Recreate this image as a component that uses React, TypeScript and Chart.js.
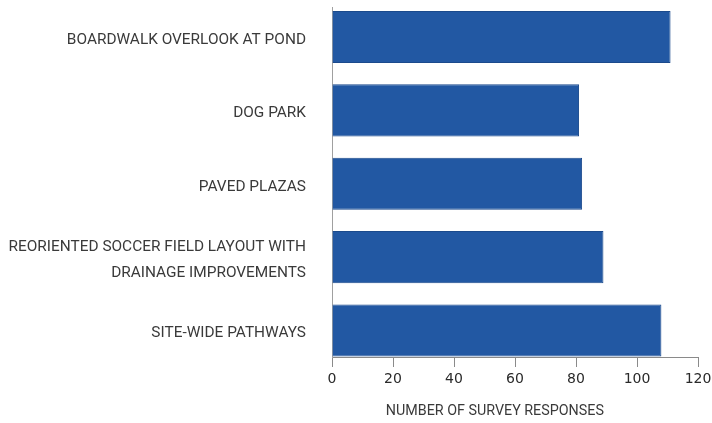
import React, { useEffect, useRef } from "react";
import { Chart, registerables } from "chart.js";

Chart.register(...registerables);

const categories: (string | string[])[] = [
  "BOARDWALK OVERLOOK AT POND",
  "DOG PARK",
  "PAVED PLAZAS",
  ["REORIENTED SOCCER FIELD LAYOUT WITH", "DRAINAGE IMPROVEMENTS"],
  "SITE-WIDE PATHWAYS",
];
const responses: number[] = [111, 81, 82, 89, 108];
const xTicks: number[] = [0, 20, 40, 60, 80, 100, 120];
const axisTitle = "NUMBER OF SURVEY RESPONSES";

const LABEL_FONT = "Roboto, 'Liberation Sans', Arial, sans-serif";

const titlePlugin = {
  id: "offsetTitle",
  afterDraw(chart: any) {
    const { ctx, chartArea } = chart;
    ctx.save();
    ctx.font = `14.3px ${LABEL_FONT}`;
    ctx.fillStyle = "#3a3a3a";
    ctx.textAlign = "center";
    ctx.textBaseline = "middle";
    ctx.fillText(axisTitle, chartArea.left + chartArea.width * 0.445, 411);
    ctx.restore();
  },
};

export default function App() {
  const ref = useRef<HTMLCanvasElement | null>(null);
  useEffect(() => {
    if (!ref.current) return;
    const chart = new Chart(ref.current, {
      type: "bar",
      data: {
        labels: categories as any,
        datasets: [
          {
            data: responses.map((v, i) => ({ x: v, y: i })) as any,
            backgroundColor: "#2258a3",
            borderColor: "#1b4a8c",
            borderWidth: 1,
            barPercentage: 0.71,
            categoryPercentage: 1,
          },
        ],
      },
      options: {
        indexAxis: "y",
        animation: false,
        responsive: false,
        maintainAspectRatio: false,
        layout: { padding: { top: 7, right: 14, left: 0, bottom: 0 } },
        plugins: { legend: { display: false }, tooltip: { enabled: false }, title: { display: false } },
        scales: {
          x: {
            type: "linear",
            min: 0,
            max: 120,
            bounds: "data",
            offset: false,
            afterBuildTicks: (s: any) => {
              s.ticks = xTicks.map((v) => ({ value: v }));
            },
            afterFit: (s: any) => {
              s.height = 66;
              s.paddingLeft = 0;
              s.paddingRight = 0;
            },
            grid: { display: true, drawOnChartArea: false, drawTicks: true, tickLength: 10, color: "#8a8a8a", offset: false },
            border: { display: true, color: "#8a8a8a", width: 1 },
            ticks: {
              padding: 4,
              color: "#2a2a2a",
              font: { family: "'DejaVu Sans', sans-serif", size: 14 },
            },
          },
          y: {
            type: "linear",
            reverse: true,
            min: -0.409,
            max: 4.361,
            bounds: "data",
            offset: false,
            afterBuildTicks: (s: any) => {
              s.ticks = categories.map((_, i) => ({ value: i }));
            },
            afterFit: (s: any) => {
              s.width = 332;
              s.paddingTop = 0;
              s.paddingBottom = 0;
            },
            grid: { display: false, offset: false },
            border: { display: true, color: "#a0a0a0", width: 1 },
            ticks: {
              padding: 18,
              labelOffset: 3,
              color: "#3a3a3a",
              font: { family: LABEL_FONT, size: 15.4, lineHeight: 1.69 },
              callback: (v: any) => categories[v as number],
            },
          },
        },
      },
      plugins: [titlePlugin],
    });
    return () => chart.destroy();
  }, []);
  return (
    <div style={{ position: "fixed", left: 0, top: 0, width: 712, height: 423, background: "#fff" }}>
      <canvas ref={ref} width={712} height={423} style={{ width: 712, height: 423, display: "block" }} />
    </div>
  );
}
